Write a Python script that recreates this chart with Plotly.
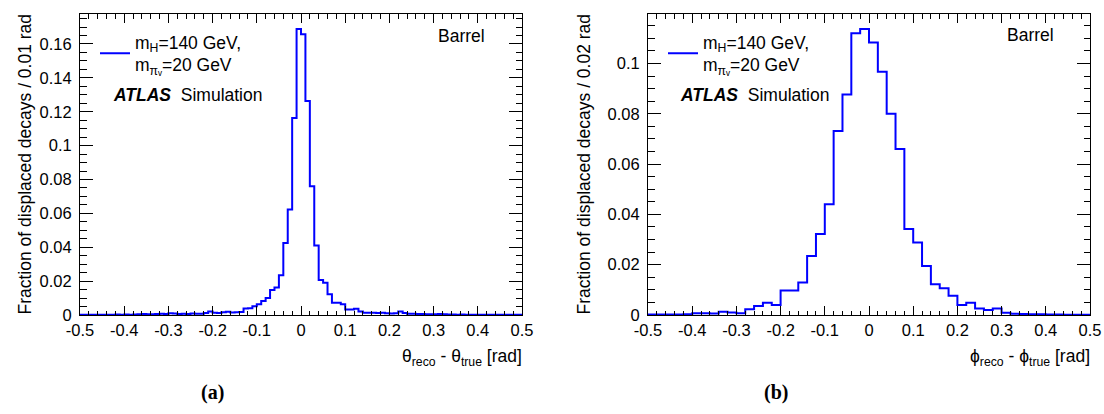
import plotly.graph_objects as go

W, H = 1104, 414

# ---------------- data ----------------
# panel (a): theta_reco - theta_true, 100 bins of 0.01 rad from -0.5 to 0.5
theta_bin_width = 0.01
theta_lo = -0.5
theta_values = [
    0.0002, 0.0001, 0.0002, 0.0001, 0.0002, 0.0002, 0.0001, 0.0002, 0.0003, 0.0002,
    0.0003, 0.0002, 0.0003, 0.0004, 0.0006, 0.0005, 0.0004, 0.0006, 0.0008, 0.0006,
    0.0011, 0.0009, 0.0006, 0.0007, 0.0006, 0.0009, 0.0008, 0.0007, 0.0012, 0.0020,
    0.0014, 0.0012, 0.0016, 0.0019, 0.0015, 0.0016, 0.0018, 0.0038, 0.0040, 0.0052,
    0.0063, 0.0082, 0.0100, 0.0147, 0.0163, 0.0235, 0.0425, 0.0623, 0.1163, 0.1688,
    0.1657, 0.1263, 0.0760, 0.0410, 0.0206, 0.0190, 0.0122, 0.0073, 0.0073, 0.0063,
    0.0033, 0.0033, 0.0037, 0.0020, 0.0014, 0.0013, 0.0014, 0.0012, 0.0013, 0.0010,
    0.0009, 0.0011, 0.0020, 0.0012, 0.0008, 0.0007, 0.0006, 0.0006, 0.0005, 0.0005,
    0.0004, 0.0006, 0.0004, 0.0003, 0.0003, 0.0002, 0.0003, 0.0002, 0.0002, 0.0001,
    0.0002, 0.0002, 0.0001, 0.0002, 0.0001, 0.0001, 0.0002, 0.0001, 0.0001, 0.0001,
]

# panel (b): phi_reco - phi_true, 50 bins of 0.02 rad from -0.5 to 0.5
phi_bin_width = 0.02
phi_lo = -0.5
phi_values = [
    0.0002, 0.0002, 0.0002, 0.0002, 0.0003, 0.0007, 0.0007, 0.0006, 0.0013, 0.0010,
    0.0007, 0.0023, 0.0036, 0.0049, 0.0040, 0.0097, 0.0097, 0.0129, 0.0235, 0.0322,
    0.0440, 0.0732, 0.0877, 0.1120, 0.1137, 0.1084, 0.0967, 0.0800, 0.0660, 0.0342,
    0.0288, 0.0195, 0.0122, 0.0106, 0.0077, 0.0040, 0.0049, 0.0026, 0.0020, 0.0026,
    0.0009, 0.0005, 0.0004, 0.0003, 0.0003, 0.0002, 0.0002, 0.0001, 0.0001, 0.0001,
]

x_tickvals = [-0.5, -0.4, -0.3, -0.2, -0.1, 0.0, 0.1, 0.2, 0.3, 0.4, 0.5]
x_ticktext = ["-0.5", "-0.4", "-0.3", "-0.2", "-0.1", "0", "0.1", "0.2", "0.3", "0.4", "0.5"]
ya_tickvals = [0, 0.02, 0.04, 0.06, 0.08, 0.10, 0.12, 0.14, 0.16]
ya_ticktext = ["0", "0.02", "0.04", "0.06", "0.08", "0.1", "0.12", "0.14", "0.16"]
yb_tickvals = [0, 0.02, 0.04, 0.06, 0.08, 0.10]
yb_ticktext = ["0", "0.02", "0.04", "0.06", "0.08", "0.1"]

legend_text = "m<sub>H</sub>=140 GeV,<br>m<sub>π\u1d65</sub>=20 GeV"
ya_title = "Fraction of displaced decays / 0.01 rad"
yb_title = "Fraction of displaced decays / 0.02 rad"
xa_title = "θ<sub>reco</sub> - θ<sub>true</sub> [rad]"
xb_title = "ϕ<sub>reco</sub> - ϕ<sub>true</sub> [rad]"


def step_xy(lo, width, vals):
    xs = [lo + i * width for i in range(len(vals))] + [lo + len(vals) * width]
    ys = list(vals) + [vals[-1]]
    return xs, ys


FONT = "Liberation Sans, Arial, Helvetica, sans-serif"
BLUE = "#0000ff"
TXT = 17.5

def px(x):
    return x / W

def py(y):
    return 1 - y / H

fig = go.Figure()

xa, ya = step_xy(theta_lo, theta_bin_width, theta_values)
fig.add_trace(go.Scatter(x=xa, y=ya, mode="lines", line=dict(color=BLUE, width=2, shape="hv"),
                         name=legend_text, xaxis="x", yaxis="y", legend="legend"))
xb, yb = step_xy(phi_lo, phi_bin_width, phi_values)
fig.add_trace(go.Scatter(x=xb, y=yb, mode="lines", line=dict(color=BLUE, width=2, shape="hv"),
                         name=legend_text, xaxis="x2", yaxis="y2", legend="legend2"))

tickfont = dict(family=FONT, size=16.5, color="black")

def xaxis(domain, anchor):
    return dict(domain=domain, anchor=anchor, range=[-0.5, 0.5], tickmode="array",
                tickvals=x_tickvals, ticktext=x_ticktext, ticks="inside", ticklen=9,
                tickwidth=1, tickcolor="black", showline=True, linecolor="black", linewidth=1,
                mirror="allticks", showgrid=False, zeroline=False, tickfont=tickfont,
                automargin=False,
                minor=dict(dtick=0.02, tick0=-0.5, ticks="inside", ticklen=4.5,
                           tickcolor="black", tickwidth=1, showgrid=False))

def yaxis(domain, anchor, rng, tv, tt):
    return dict(domain=domain, anchor=anchor, range=rng, tickmode="array",
                tickvals=tv, ticktext=tt, ticks="inside", ticklen=13, tickwidth=1,
                tickcolor="black", showline=True, linecolor="black", linewidth=1,
                mirror="allticks", showgrid=False, zeroline=False, tickfont=tickfont,
                ticklabelstandoff=4, automargin=False,
                minor=dict(dtick=0.005, tick0=0, ticks="inside", ticklen=6.5,
                           tickcolor="black", tickwidth=1, showgrid=False))

ydom = [py(315), py(14)]

fig.update_layout(
    width=W, height=H,
    margin=dict(l=0, r=0, t=0, b=0, autoexpand=False),
    paper_bgcolor="white", plot_bgcolor="white",
    font=dict(family=FONT, size=TXT, color="black"),
    xaxis=xaxis([px(80), px(522)], "y"),
    yaxis=yaxis(ydom, "x", [0, 0.1777], ya_tickvals, ya_ticktext),
    xaxis2=xaxis([px(648), px(1090)], "y2"),
    yaxis2=yaxis(ydom, "x2", [0, 0.1197], yb_tickvals, yb_ticktext),
    legend=dict(x=px(95), y=py(24), xanchor="left", yanchor="top",
                bgcolor="rgba(0,0,0,0)", font=dict(family=FONT, size=TXT, color="black")),
    legend2=dict(x=px(663), y=py(24), xanchor="left", yanchor="top",
                 bgcolor="rgba(0,0,0,0)", font=dict(family=FONT, size=TXT, color="black")),
    showlegend=True,
)

annotations = [
    # y-axis titles
    dict(text=ya_title, x=px(24), y=py(12), xanchor="center", yanchor="top", textangle=-90),
    dict(text=yb_title, x=px(583), y=py(12), xanchor="center", yanchor="top", textangle=-90),
    # x-axis titles
    dict(text=xa_title, x=px(524), y=py(357), xanchor="right", yanchor="middle"),
    dict(text=xb_title, x=px(1092), y=py(357), xanchor="right", yanchor="middle"),
    # ATLAS labels
    dict(text="<b><i>ATLAS</i></b>  Simulation", x=px(111), y=py(95), xanchor="left", yanchor="middle"),
    dict(text="<b><i>ATLAS</i></b>  Simulation", x=px(678), y=py(95), xanchor="left", yanchor="middle"),
    # region labels
    dict(text="Barrel", x=px(436), y=py(36), xanchor="left", yanchor="middle"),
    dict(text="Barrel", x=px(1005), y=py(35), xanchor="left", yanchor="middle"),
    # subfigure labels
    dict(text="<b>(a)</b>", x=px(212), y=py(392), xanchor="center", yanchor="middle",
         font=dict(family="Liberation Serif, Times New Roman, serif", size=20, color="black")),
    dict(text="<b>(b)</b>", x=px(776), y=py(392), xanchor="center", yanchor="middle",
         font=dict(family="Liberation Serif, Times New Roman, serif", size=20, color="black")),
]
for a in annotations:
    a.setdefault("font", dict(family=FONT, size=TXT, color="black"))
    a.update(xref="paper", yref="paper", showarrow=False)
fig.update_layout(annotations=annotations)

fig.write_html("out.html", config={"displayModeBar": False},
               post_script="document.body.style.margin='0';document.body.style.padding='0';")
